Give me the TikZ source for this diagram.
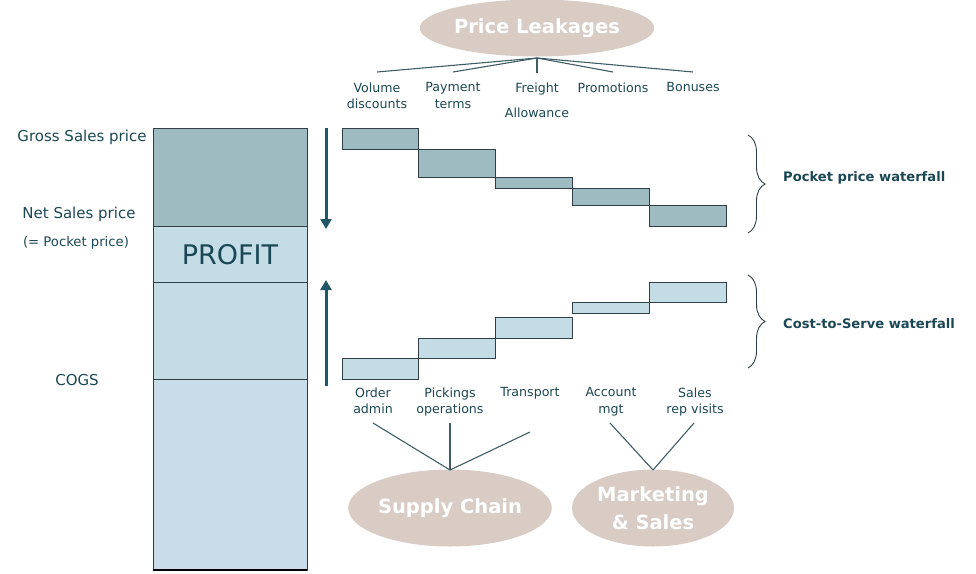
\documentclass[tikz,border=0pt]{standalone}
\usepackage{fontspec}
\setmainfont{DejaVu Sans}
\usetikzlibrary{shapes.geometric,decorations.pathreplacing,arrows.meta}
\definecolor{txt}{HTML}{1A4754}
\definecolor{darkbar}{HTML}{9FBBC2}
\definecolor{lightbar}{HTML}{C4DCE6}
\definecolor{cogsbar}{HTML}{C8DCEA}
\definecolor{taupe}{HTML}{D8CCC5}
\definecolor{arrowc}{HTML}{1F5766}
\definecolor{edgec}{HTML}{2F3F45}
\definecolor{linkc}{HTML}{3E5D64}
\tikzset{
  fs/.style={font=\fontsize{#1}{#1}\selectfont},
  lbl/.style={text=txt, fs=15, inner sep=0pt},
  small/.style={text=txt, font=\fontsize{12.6}{16.5}\selectfont, inner sep=0pt, align=center},
  bluebox/.style={draw=edgec, line width=0.9pt},
  bubble/.style={ellipse, fill=taupe, inner sep=0pt, text=white, font=\bfseries\fontsize{19.5}{22}\selectfont, align=center},
  link/.style={draw=linkc, line width=1.1pt},
  bigarrow/.style={draw=arrowc, line width=3pt, -{Triangle[length=10pt,width=11pt]}},
  bracec/.style={draw=edgec, line width=0.9pt, decorate, decoration={brace, amplitude=17pt}},
  sidelbl/.style={text=txt, font=\bfseries\fontsize{13.1}{14}\selectfont, inner sep=0pt, anchor=west}
}
\begin{document}
\begin{tikzpicture}[x=1pt,y=-1pt]
\useasboundingbox (0,0) rectangle (976,573);
% left column
\path[bluebox, fill=darkbar] (153,128) rectangle (307,226);
\path[bluebox, fill=lightbar] (153,226) rectangle (307,282);
\path[bluebox, fill=lightbar] (153,282) rectangle (307,379);
\path[bluebox, fill=cogsbar] (153,379) rectangle (307,570);
\draw[black, line width=2.5pt] (153,570) -- (307,570);
\node[text=txt, fs=27, inner sep=0pt] (profit) at (230,255) {PROFIT};
\node[lbl] (gross) at (82,137) {Gross Sales price};
\node[lbl] (net) at (79,214) {Net Sales price};
\node[text=txt, fs=13.2, inner sep=0pt] (pocket) at (76,243) {(= Pocket price)};
\node[lbl] (cogs) at (77,380) {COGS};
% arrows
\coordinate (dtop) at (326,128);
\coordinate (dbot) at (326,229);
\coordinate (utop) at (326,280);
\coordinate (ubot) at (326,386);
\draw[bigarrow] (dtop) -- (dbot);
\draw[bigarrow] (ubot) -- (utop);
% top waterfall
\path[bluebox, fill=darkbar] (342,128) rectangle (418,149);
\path[bluebox, fill=darkbar] (418,149) rectangle (495,177);
\path[bluebox, fill=darkbar] (495,177) rectangle (572,188);
\path[bluebox, fill=darkbar] (572,188) rectangle (649,205);
\path[bluebox, fill=darkbar] (649,205) rectangle (726,226);
% bottom waterfall
\path[bluebox, fill=lightbar] (342,358) rectangle (418,379);
\path[bluebox, fill=lightbar] (418,338) rectangle (495,358);
\path[bluebox, fill=lightbar] (495,317) rectangle (572,338);
\path[bluebox, fill=lightbar] (572,302) rectangle (649,313);
\path[bluebox, fill=lightbar] (649,282) rectangle (726,302);
% price leakages
\node[bubble, minimum width=223pt, minimum height=57pt] (pl) at (537,28) {Price Leakages};
\coordinate (plb) at (537,58);
\node[small, anchor=north] (vol) at (377,82.5) {Volume\\discounts};
\node[small, anchor=north] (pay) at (453,82.5) {Payment\\terms};
\node[small, anchor=north] (fre) at (537,82.5) {Freight};
\node[small, anchor=north] (all) at (537,108) {Allowance};
\node[small, anchor=north] (pro) at (613,82.5) {Promotions};
\node[small, anchor=north] (bon) at (693,82.5) {Bonuses};
\coordinate (lv) at (377,72);
\coordinate (lp) at (453,72);
\coordinate (lf) at (537,73);
\coordinate (lr) at (613,72);
\coordinate (lb) at (693,72);
\draw[link] (plb) -- (lv);
\draw[link] (plb) -- (lp);
\draw[link] (plb) -- (lf);
\draw[link] (plb) -- (lr);
\draw[link] (plb) -- (lb);
% cost labels
\node[small, anchor=north] (ord) at (373,387.5) {Order\\admin};
\node[small, anchor=north] (pick) at (450,387.5) {Pickings\\operations};
\node[small, anchor=north] (tra) at (530,387.5) {Transport};
\node[small, anchor=north] (acc) at (611,387.5) {Account\\mgt};
\node[small, anchor=north] (sal) at (695,387.5) {Sales\\rep visits};
% bottom bubbles
\node[bubble, minimum width=161pt, minimum height=77pt] (sc) at (450,508) {Supply Chain};
\node[bubble, minimum width=162pt, minimum height=77pt, font=\bfseries\fontsize{19.5}{28}\selectfont] (ms) at (653,508) {Marketing\\\& Sales};
\coordinate (sct) at (450,470);
\coordinate (mst) at (653,470);
\coordinate (c1) at (373,423);
\coordinate (c2) at (450,423);
\coordinate (c3) at (530,432);
\coordinate (c4) at (610,423);
\coordinate (c5) at (694,423);
\draw[link] (sct) -- (c1);
\draw[link] (sct) -- (c2);
\draw[link] (sct) -- (c3);
\draw[link] (mst) -- (c4);
\draw[link] (mst) -- (c5);
% braces
\coordinate (b1t) at (748,135);
\coordinate (b1b) at (748,233);
\coordinate (b2t) at (748,275);
\coordinate (b2b) at (748,368);
\draw[bracec] (b1t) -- (b1b);
\draw[bracec] (b2t) -- (b2b);
\node[sidelbl] (ppw) at (783,178) {Pocket price waterfall};
\node[sidelbl] (csw) at (783,324) {Cost-to-Serve waterfall};
\end{tikzpicture}
\end{document}
